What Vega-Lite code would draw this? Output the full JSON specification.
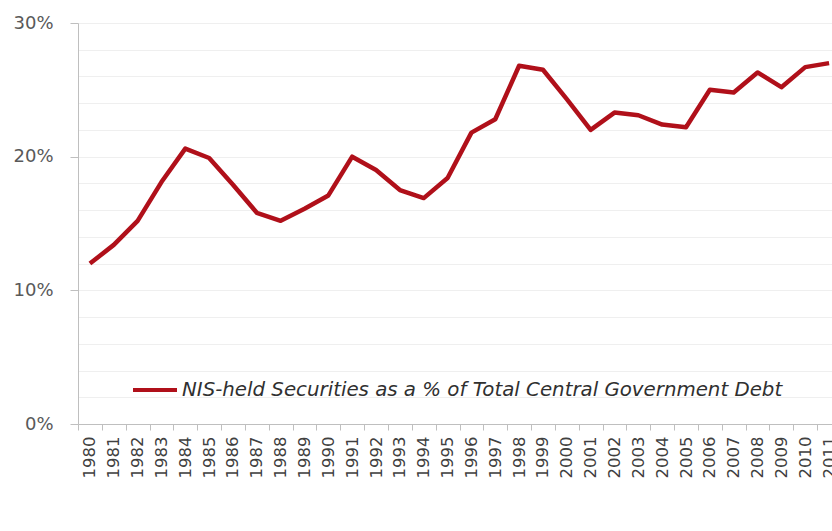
{
  "$schema": "https://vega.github.io/schema/vega-lite/v6.json",
  "autosize": {"type": "none"},
  "padding": {"left": 78, "top": 23, "right": 0, "bottom": 107},
  "width": 763,
  "height": 401,
  "background": "white",
  "config": {"view": {"stroke": null}, "font": "DejaVu Sans"},
  "data": {"values": [
    {"year": "1980", "share": 0.120},
    {"year": "1981", "share": 0.134},
    {"year": "1982", "share": 0.152},
    {"year": "1983", "share": 0.181},
    {"year": "1984", "share": 0.206},
    {"year": "1985", "share": 0.199},
    {"year": "1986", "share": 0.179},
    {"year": "1987", "share": 0.158},
    {"year": "1988", "share": 0.152},
    {"year": "1989", "share": 0.161},
    {"year": "1990", "share": 0.171},
    {"year": "1991", "share": 0.200},
    {"year": "1992", "share": 0.190},
    {"year": "1993", "share": 0.175},
    {"year": "1994", "share": 0.169},
    {"year": "1995", "share": 0.184},
    {"year": "1996", "share": 0.218},
    {"year": "1997", "share": 0.228},
    {"year": "1998", "share": 0.268},
    {"year": "1999", "share": 0.265},
    {"year": "2000", "share": 0.243},
    {"year": "2001", "share": 0.220},
    {"year": "2002", "share": 0.233},
    {"year": "2003", "share": 0.231},
    {"year": "2004", "share": 0.224},
    {"year": "2005", "share": 0.222},
    {"year": "2006", "share": 0.250},
    {"year": "2007", "share": 0.248},
    {"year": "2008", "share": 0.263},
    {"year": "2009", "share": 0.252},
    {"year": "2010", "share": 0.267},
    {"year": "2011", "share": 0.270}
  ]},
  "mark": {"type": "line", "strokeWidth": 4.5, "strokeJoin": "round"},
  "encoding": {
    "x": {
      "field": "year", "type": "ordinal",
      "scale": {"type": "band", "paddingInner": 0, "paddingOuter": 0},
      "axis": {
        "title": null, "labelAngle": -90, "labelFontSize": 16.5, "labelColor": "#404040",
        "tickBand": "extent", "tickSize": 6, "tickColor": "#bfbfbf", "domainColor": "#bfbfbf",
        "labelPadding": 6, "grid": false
      }
    },
    "y": {
      "field": "share", "type": "quantitative",
      "scale": {"domain": [0, 0.3], "nice": false},
      "axis": {
        "title": null,
        "values": [0, 0.02, 0.04, 0.06, 0.08, 0.1, 0.12, 0.14, 0.16, 0.18, 0.2, 0.22, 0.24, 0.26, 0.28, 0.3],
        "labelExpr": "round(datum.value*100) % 10 === 0 ? format(datum.value, '.0%') : ''",
        "labelFontSize": 18, "labelColor": "#595959", "labelPadding": 17,
        "tickSize": 8, "tickColor": "#bfbfbf",
        "tickOpacity": {"condition": {"test": "round(datum.value*100) % 10 === 0", "value": 1}, "value": 0},
        "domainColor": "#bfbfbf",
        "grid": true, "gridColor": "#efefef", "gridWidth": 1
      }
    },
    "color": {
      "datum": "NIS-held Securities as a % of Total Central Government Debt",
      "scale": {"range": ["#b0101a"]},
      "legend": {
        "title": null, "orient": "none", "legendX": 53, "legendY": 343,
        "symbolType": "stroke", "symbolSize": 1936, "symbolStrokeWidth": 4,
        "labelFontSize": 19.8, "labelFontStyle": "italic", "labelColor": "#303030",
        "labelLimit": 800, "labelOffset": 3
      }
    }
  }
}
